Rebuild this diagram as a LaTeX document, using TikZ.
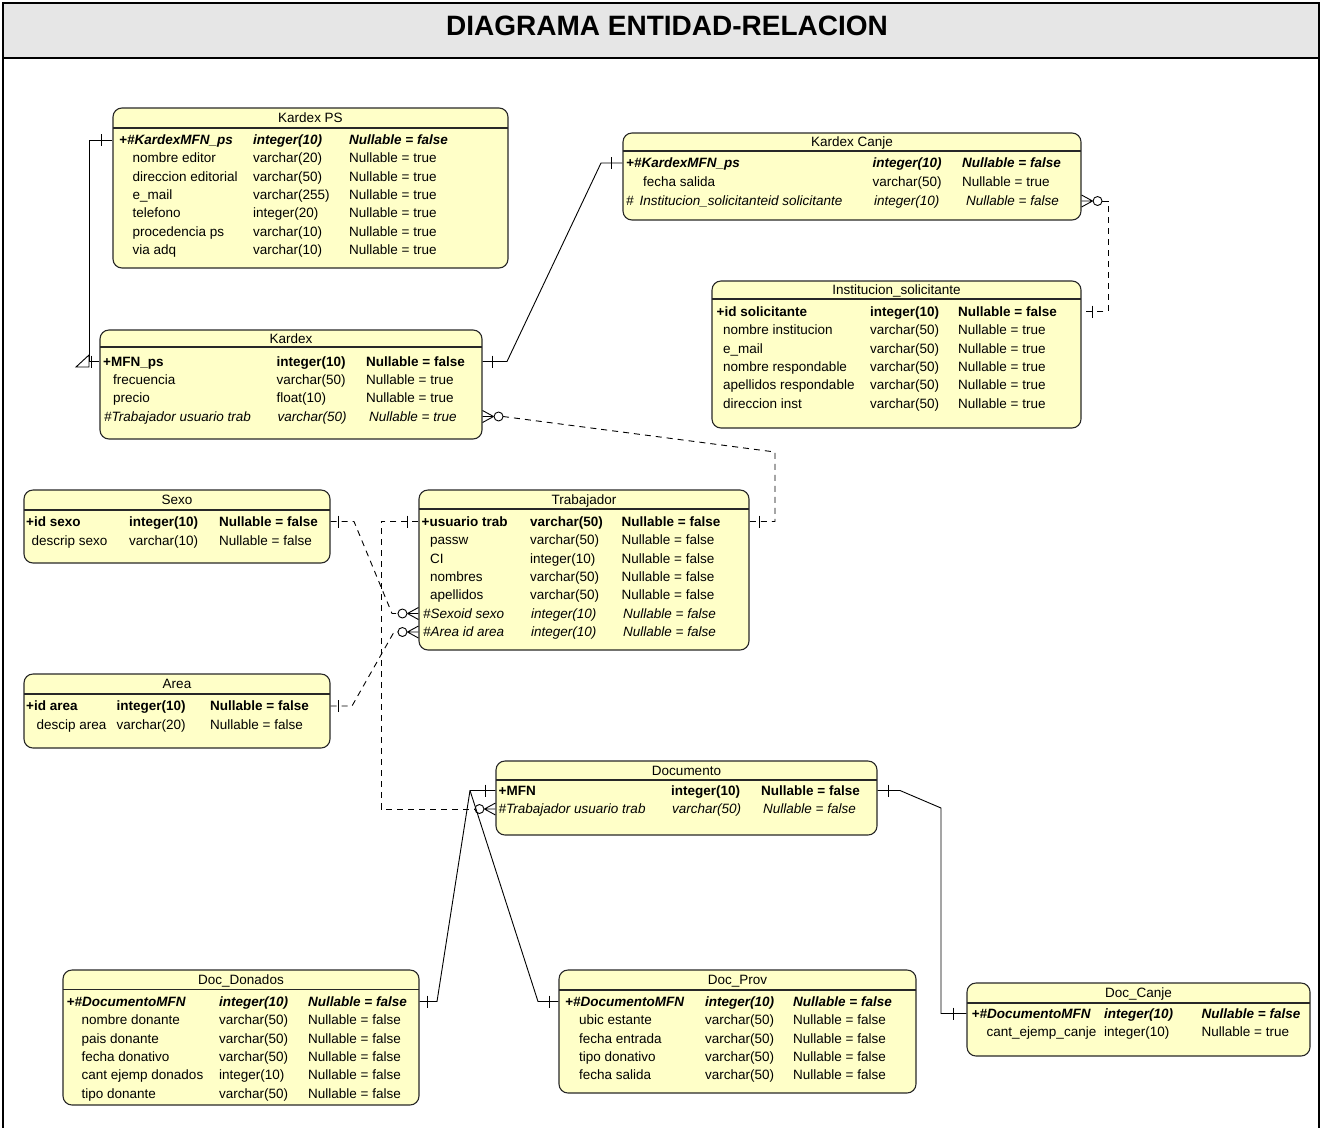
\documentclass[tikz,border=0pt]{standalone}
\usepackage{fontspec}
\setmainfont{Liberation Sans}
\usetikzlibrary{calc,fit}

\definecolor{tablefill}{RGB}{255,255,200}
\definecolor{headgray}{RGB}{230,230,230}
\definecolor{edgedark}{RGB}{40,40,40}

\tikzset{
  erbox/.style={draw=edgedark, line width=1.1pt, rounded corners=9pt, fill=tablefill, inner sep=0pt},
  erline/.style={draw=edgedark, line width=1.1pt},
  ertitle/.style={inner sep=0pt, text height=11pt, text depth=1.5pt, font=\fontsize{13.5}{15}\selectfont},
  erplain/.style={anchor=west, inner sep=0pt, text height=11pt, text depth=1.5pt, font=\fontsize{13.5}{15}\selectfont},
  erpk/.style={erplain, font=\fontsize{13.5}{15}\selectfont\bfseries},
  erpkfk/.style={erplain, font=\fontsize{13.5}{15}\selectfont\bfseries\itshape},
  erfk/.style={erplain, font=\fontsize{13.5}{15}\selectfont\itshape},
  rel/.style={draw=black, line width=0.9pt},
  optrel/.style={rel, dash pattern=on 6pt off 5pt},
  frame/.style={draw=black, line width=2.5pt},
}

% entity box: name, left, top, right, bottom, header line, title
\newcommand\erentity[7]{%
  \path (#2,#3) coordinate (#1nw) (#4,#5) coordinate (#1se);
  \node[erbox, fit=(#1nw)(#1se)] (#1) {};
  \draw[erline] (#2,#6) -- (#4,#6);
  \node[ertitle] (#1t) at ({(#2+#4)/2},{(#3+#6)/2}) {#7};}

% one attribute row: name, style, y, x1, column1, x2, column2, x3, column3
\newcommand\errow[9]{%
  \node[#2] (#1a) at (#4,#3) {#5};
  \node[#2] (#1b) at (#6,#3) {#7};
  \node[#2] (#1c) at (#8,#3) {#9};}

% "one" bar across a connector
\newcommand\erbar[1]{\draw[rel] ($(#1)+(0,-6)$) -- ($(#1)+(0,6)$);}

% zero-or-many end; second argument 1 = entity on the right, -1 = on the left
\newcommand\ercrow[2]{%
  \begin{scope}[shift={(#1)}, xscale=#2]
    \draw[rel] (-11,0) -- (0,-6) (-11,0) -- (0,0) (-11,0) -- (0,6);
    \draw[rel, fill=white] (-16,0) circle[radius=4.5pt];
  \end{scope}}

\begin{document}
\begin{tikzpicture}[x=1pt, y=-1pt]
\useasboundingbox (0,0) rectangle (1322,1128);

% sheet frame and heading
\draw[frame, fill=headgray] (3,3) rectangle (1319,58);
\draw[frame] (3,58) -- (3,1128) (1319,58) -- (1319,1128);
\node[font=\fontsize{28}{32}\selectfont\bfseries] (heading) at (667,26) {DIAGRAMA ENTIDAD-RELACION};

% ---------------- Kardex PS
\erentity{kps}{113}{108}{508}{268}{128}{Kardex PS}
\errow{kps1}{erpkfk}{140}{119}{+\#KardexMFN\_ps}{253}{integer(10)}{349}{Nullable = false}
\errow{kps2}{erplain}{158}{132.5}{nombre editor}{253}{varchar(20)}{349}{Nullable = true}
\errow{kps3}{erplain}{176.5}{132.5}{direccion editorial}{253}{varchar(50)}{349}{Nullable = true}
\errow{kps4}{erplain}{195}{132.5}{e\_mail}{253}{varchar(255)}{349}{Nullable = true}
\errow{kps5}{erplain}{213}{132.5}{telefono}{253}{integer(20)}{349}{Nullable = true}
\errow{kps6}{erplain}{231.5}{132.5}{procedencia ps}{253}{varchar(10)}{349}{Nullable = true}
\errow{kps7}{erplain}{250}{132.5}{via adq}{253}{varchar(10)}{349}{Nullable = true}

% ---------------- Kardex
\erentity{kdx}{100}{330}{482}{439}{347}{Kardex}
\errow{kdx1}{erpk}{361.5}{103}{+MFN\_ps}{276.5}{integer(10)}{366}{Nullable = false}
\errow{kdx2}{erplain}{380}{113}{frecuencia}{276.5}{varchar(50)}{366}{Nullable = true}
\errow{kdx3}{erplain}{398}{113}{precio}{276.5}{float(10)}{366}{Nullable = true}
\errow{kdx4}{erfk}{416.5}{104}{\#Trabajador usuario trab}{277.5}{varchar(50)}{369}{Nullable = true}

% ---------------- Kardex Canje
\erentity{kc}{623}{133}{1081}{220}{151}{Kardex Canje}
\errow{kc1}{erpkfk}{163}{626}{+\#KardexMFN\_ps}{872.5}{integer(10)}{962}{Nullable = false}
\errow{kc2}{erplain}{182}{643}{fecha salida}{872.5}{varchar(50)}{962}{Nullable = true}
\errow{kc3}{erfk}{201}{626}{\#\hspace{6pt}Institucion\_solicitanteid solicitante}{874}{integer(10)}{966}{Nullable = false}

% ---------------- Institucion_solicitante
\erentity{ins}{712}{281}{1081}{428}{299}{Institucion\_solicitante}
\errow{ins1}{erpk}{311.5}{716.5}{+id solicitante}{870}{integer(10)}{958}{Nullable = false}
\errow{ins2}{erplain}{330}{723}{nombre institucion}{870}{varchar(50)}{958}{Nullable = true}
\errow{ins3}{erplain}{348.5}{723}{e\_mail}{870}{varchar(50)}{958}{Nullable = true}
\errow{ins4}{erplain}{367}{723}{nombre respondable}{870}{varchar(50)}{958}{Nullable = true}
\errow{ins5}{erplain}{385}{723}{apellidos respondable}{870}{varchar(50)}{958}{Nullable = true}
\errow{ins6}{erplain}{403.5}{723}{direccion inst}{870}{varchar(50)}{958}{Nullable = true}

% ---------------- Sexo
\erentity{sex}{24}{490}{330}{563}{510}{Sexo}
\errow{sex1}{erpk}{521.5}{26}{+id sexo}{129}{integer(10)}{219}{Nullable = false}
\errow{sex2}{erplain}{540.5}{31.5}{descrip sexo}{129}{varchar(10)}{219}{Nullable = false}

% ---------------- Trabajador
\erentity{trb}{419}{490}{749}{650}{509}{Trabajador}
\errow{trb1}{erpk}{521.5}{421.5}{+usuario trab}{530}{varchar(50)}{621.5}{Nullable = false}
\errow{trb2}{erplain}{540}{430}{passw}{530}{varchar(50)}{621.5}{Nullable = false}
\errow{trb3}{erplain}{558.5}{430}{CI}{530}{integer(10)}{621.5}{Nullable = false}
\errow{trb4}{erplain}{577}{430}{nombres}{530}{varchar(50)}{621.5}{Nullable = false}
\errow{trb5}{erplain}{595}{430}{apellidos}{530}{varchar(50)}{621.5}{Nullable = false}
\errow{trb6}{erfk}{613.5}{423}{\#Sexoid sexo}{531}{integer(10)}{623}{Nullable = false}
\errow{trb7}{erfk}{632}{423}{\#Area id area}{531}{integer(10)}{623}{Nullable = false}

% ---------------- Area
\erentity{are}{24}{674}{330}{748}{694}{Area}
\errow{are1}{erpk}{706}{26}{+id area}{116.5}{integer(10)}{210}{Nullable = false}
\errow{are2}{erplain}{725}{36.5}{descip area}{116.5}{varchar(20)}{210}{Nullable = false}

% ---------------- Documento
\erentity{doc}{496}{761}{877}{835}{780}{Documento}
\errow{doc1}{erpk}{790.5}{498.5}{+MFN}{671}{integer(10)}{761}{Nullable = false}
\errow{doc2}{erfk}{809}{498.5}{\#Trabajador usuario trab}{672}{varchar(50)}{763}{Nullable = false}

% ---------------- Doc_Donados
\erentity{ddo}{63}{970}{419}{1105}{989.5}{Doc\_Donados}
\errow{ddo1}{erpkfk}{1001.5}{66.5}{+\#DocumentoMFN}{219}{integer(10)}{308}{Nullable = false}
\errow{ddo2}{erplain}{1020}{81.5}{nombre donante}{219}{varchar(50)}{308}{Nullable = false}
\errow{ddo3}{erplain}{1038.5}{81.5}{pais donante}{219}{varchar(50)}{308}{Nullable = false}
\errow{ddo4}{erplain}{1057}{81.5}{fecha donativo}{219}{varchar(50)}{308}{Nullable = false}
\errow{ddo5}{erplain}{1075}{81.5}{cant ejemp donados}{219}{integer(10)}{308}{Nullable = false}
\errow{ddo6}{erplain}{1093.5}{81.5}{tipo donante}{219}{varchar(50)}{308}{Nullable = false}

% ---------------- Doc_Prov
\erentity{dpr}{559}{970}{916}{1093}{990}{Doc\_Prov}
\errow{dpr1}{erpkfk}{1001.5}{565}{+\#DocumentoMFN}{705}{integer(10)}{793}{Nullable = false}
\errow{dpr2}{erplain}{1020}{579}{ubic estante}{705}{varchar(50)}{793}{Nullable = false}
\errow{dpr3}{erplain}{1038.5}{579}{fecha entrada}{705}{varchar(50)}{793}{Nullable = false}
\errow{dpr4}{erplain}{1057}{579}{tipo donativo}{705}{varchar(50)}{793}{Nullable = false}
\errow{dpr5}{erplain}{1075}{579}{fecha salida}{705}{varchar(50)}{793}{Nullable = false}

% ---------------- Doc_Canje
\erentity{dca}{967}{983}{1310}{1056}{1003}{Doc\_Canje}
\errow{dca1}{erpkfk}{1013.5}{971.5}{+\#DocumentoMFN}{1104}{integer(10)}{1201.5}{Nullable = false}
\errow{dca2}{erplain}{1032}{986.5}{cant\_ejemp\_canje}{1104}{integer(10)}{1201.5}{Nullable = true}

% ================= relationships
% Kardex PS -- Kardex
\coordinate (r1a) at (89,140);
\coordinate (r1b) at (89,361.5);
\draw[rel] (kps.west |- kps1a) -- (r1a) -- (r1b) -- (kdx.west |- kdx1a);
\erbar{101,140}
\erbar{91,361.5}
\draw[rel] (89,355) -- (76,367) -- (89,367) -- cycle;

% Kardex -- Kardex Canje
\coordinate (r2a) at (507,361.5);
\coordinate (r2b) at (601,163);
\draw[rel] (kdx.east |- kdx1a) -- (r2a) -- (r2b) -- (kc.west |- kc1a);
\erbar{492,361.5}
\erbar{611,163}

% Institucion_solicitante -- Kardex Canje
\coordinate (r3s) at ($(kc.east |- kc3a)+(20.5,0)$);
\coordinate (r3a) at (1108,201);
\coordinate (r3b) at (1108,311.5);
\draw[optrel] (r3s) -- (r3a) -- (r3b) -- (ins.east |- ins1a);
\ercrow{kc.east |- kc3a}{-1}
\erbar{1092,311.5}

% Trabajador -- Kardex
\coordinate (r4s) at ($(kdx.east |- kdx4a)+(20.5,0)$);
\coordinate (r4a) at (775,452);
\coordinate (r4b) at (775,521.5);
\draw[optrel] (r4s) -- (r4a) -- (r4b) -- (trb.east |- trb1a);
\ercrow{kdx.east |- kdx4a}{-1}
\erbar{759,521.5}

% Sexo -- Trabajador
\coordinate (r5a) at (354,521.5);
\coordinate (r5b) at (392,613.5);
\coordinate (r5e) at ($(trb.west |- trb6a)+(-20.5,0)$);
\draw[optrel] (sex.east |- sex1a) -- (r5a) -- (r5b) -- (r5e);
\ercrow{trb.west |- trb6a}{1}
\erbar{338,521.5}

% Area -- Trabajador
\coordinate (r6a) at (352,706);
\coordinate (r6b) at (394,632);
\coordinate (r6e) at ($(trb.west |- trb7a)+(-20.5,0)$);
\draw[optrel] (are.east |- are1a) -- (r6a) -- (r6b) -- (r6e);
\ercrow{trb.west |- trb7a}{1}
\erbar{338,706}

% Trabajador -- Documento
\coordinate (r7a) at (381,521.5);
\coordinate (r7b) at (381,809);
\coordinate (r7e) at ($(doc.west |- doc2a)+(-20.5,0)$);
\draw[optrel] (trb.west |- trb1a) -- (r7a) -- (r7b) -- (r7e);
\ercrow{doc.west |- doc2a}{1}
\erbar{407,521.5}

% Documento -- Doc_Donados / Doc_Prov
\coordinate (r8a) at (470,790.5);
\coordinate (r8b) at (437,1001.5);
\coordinate (r9b) at (538,1001.5);
\draw[rel] (doc.west |- doc1a) -- (r8a) -- (r8b) -- (ddo.east |- ddo1a);
\draw[rel] (r8a) -- (r9b) -- (dpr.west |- dpr1a);
\erbar{485,790.5}
\erbar{427,1001.5}
\erbar{549,1001.5}

% Documento -- Doc_Canje
\coordinate (r10a) at (900,790.5);
\coordinate (r10b) at (941,808);
\coordinate (r10c) at (941,1013.5);
\draw[rel] (doc.east |- doc1a) -- (r10a) -- (r10b) -- (r10c) -- (dca.west |- dca1a);
\erbar{888,790.5}
\erbar{953,1013.5}

\end{tikzpicture}
\end{document}
